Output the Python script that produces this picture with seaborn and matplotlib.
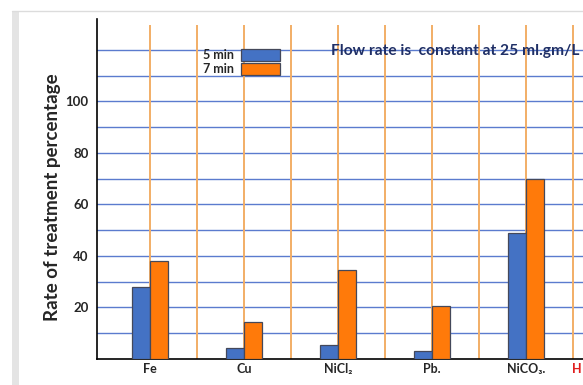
import matplotlib
matplotlib.use("Agg")
import matplotlib.pyplot as plt
import matplotlib.patches as mpatches
import pandas as pd
import seaborn as sns

# Treatment results per metal compound
compounds = ["Fe", "Cu", "NiCl₂", "Pb.", "NiCO₃."]
rate_5min = [28, 4.3, 5.4, 3.1, 49]
rate_7min = [38, 14.3, 34.5, 20.5, 70]
series = ["5 min", "7 min"]
y_tick_labels = [20, 40, 60, 80, 100]
grid_levels = [10, 20, 30, 40, 50, 60, 70, 80, 90, 100, 110, 120]

df = pd.DataFrame({
    "compound": compounds * 2,
    "time": [series[0]] * len(compounds) + [series[1]] * len(compounds),
    "rate": rate_5min + rate_7min,
})

sns.set_theme(style="white")
plt.rcParams["font.family"] = ["Lato", "DejaVu Sans"]

W, H = 583, 385
fig = plt.figure(figsize=(W / 100, H / 100), dpi=100)
fig.patch.set_facecolor("white")

# page frame: thin top rule and grey left band
fig.add_artist(plt.Line2D([12 / W, 1], [1 - 11 / H, 1 - 11 / H], color="#dcdcdc", lw=1))
fig.add_artist(mpatches.Rectangle((12 / W, 0), 7 / W, 1 - 11 / H, color="#e4e4e4", lw=0))

# axes extend past the right edge of the figure
px_per_cat = 94
first_cat_px = 150
left_px = 97
x0 = (left_px - first_cat_px) / px_per_cat
x1 = 5.5
width_px = (x1 - x0) * px_per_cat
ax = fig.add_axes([left_px / W, 26 / H, width_px / W, 340 / H])

blue = "#4472C4"
orange = "#FF7A0A"
sns.barplot(data=df, x="compound", y="rate", hue="time", order=compounds,
            palette=[blue, orange], width=0.38, ax=ax, legend=False,
            edgecolor="#44485a", linewidth=0.9, saturation=1, zorder=3)

ax.set_xlim(x0, x1)
ax.set_ylim(0, 132)

# horizontal grid every 10 units, vertical guides at half-category steps
for lvl in grid_levels:
    ax.axhline(lvl, color="#5B7BCE", lw=1.0, zorder=1)
for k in range(len(compounds) * 2 + 1):
    ax.vlines(k / 2, 0, 129.5, color="#F2AE66", lw=1.4, zorder=1)

ax.set_yticks(y_tick_labels)
ax.set_yticklabels([str(v) for v in y_tick_labels], fontsize=9.5, fontweight="bold")
ax.set_xticks(range(len(compounds)))
ax.set_xticklabels(compounds, fontsize=9, fontweight="bold")
ax.tick_params(axis="y", length=0, pad=6)
ax.tick_params(axis="x", length=0, pad=3)
ax.set_xlabel("")
ax.set_ylabel("")

for side in ["top", "right"]:
    ax.spines[side].set_visible(False)
ax.spines["left"].set_color("black")
ax.spines["left"].set_linewidth(1.2)
ax.spines["bottom"].set_color("black")
ax.spines["bottom"].set_linewidth(1.2)

fig.text(53 / W, 1 - 197 / H, "Rate of treatment percentage", rotation=90,
         ha="center", va="center", fontsize=13.5, fontweight="bold")

# red label beyond the last compound
ax.text(4.49, -1.6, "H", color="#E02020", fontsize=9, fontweight="bold",
        ha="left", va="top", transform=ax.transData, clip_on=False)

# flow-rate note
ax.text(1.93, 119.5, "Flow rate is  constant at 25 ml.gm/L", color="#1F2F66",
        fontsize=11.2, fontweight="bold", ha="left", va="center", zorder=4)

# legend with labels on the left of the swatches
handles = [mpatches.Patch(facecolor=blue, edgecolor="#44485a", lw=0.9),
           mpatches.Patch(facecolor=orange, edgecolor="#44485a", lw=0.9)]
leg = ax.legend(handles, series, loc="upper right",
                bbox_to_anchor=(280 / W, 1 - 49 / H), bbox_transform=fig.transFigure,
                frameon=False, markerfirst=False, fontsize=9,
                handlelength=3.1, handleheight=1.05, labelspacing=0.15,
                handletextpad=0.6, borderaxespad=0, borderpad=0)
for t in leg.get_texts():
    t.set_fontweight("bold")
leg.set_zorder(5)

fig.savefig("out.png", dpi=100, facecolor="white")
